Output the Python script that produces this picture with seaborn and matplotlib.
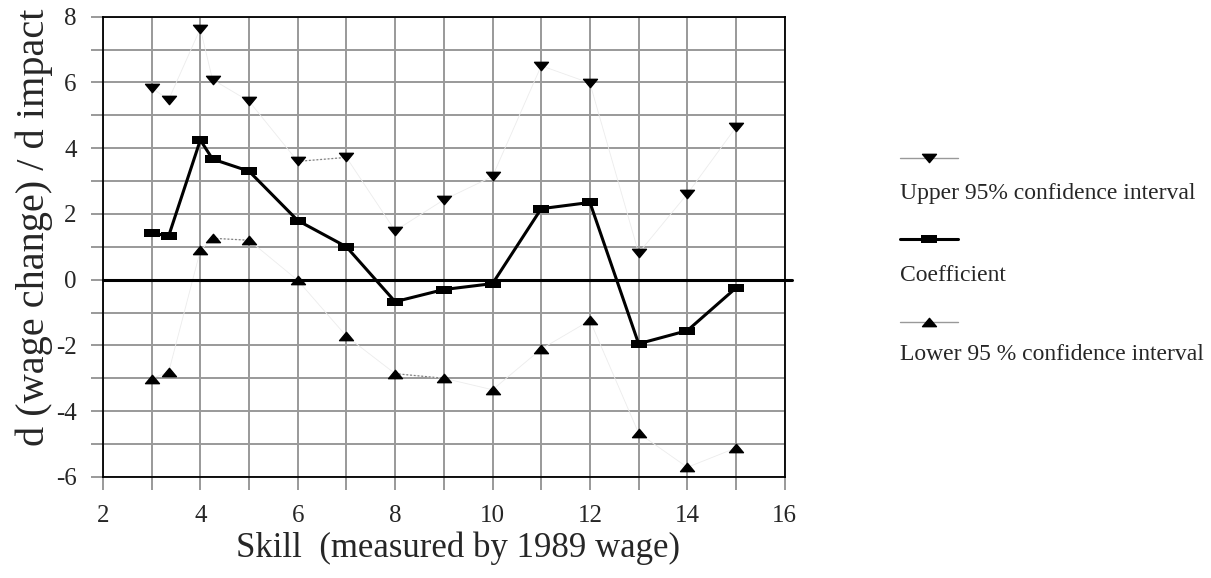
import numpy as np
import pandas as pd
import matplotlib
matplotlib.use("Agg")
import matplotlib.pyplot as plt
import seaborn as sns
from matplotlib.path import Path
from matplotlib.lines import Line2D

# ==================================================
# DATA
# ==================================================

skill = [3, 3.35, 4, 4.25, 5, 6, 7, 8, 9, 10, 11, 12, 13, 14, 15]
coefficient = [1.42, 1.33, 4.25, 3.67, 3.3, 1.8, 1.0, -0.67, -0.3, -0.12,
               2.16, 2.35, -1.95, -1.55, -0.25]
upper_ci = [5.83, 5.48, 7.64, 6.09, 5.43, 3.6, 3.72, 1.49, 2.43, 3.14,
            6.51, 5.98, 0.81, 2.61, 4.64]
lower_ci = [-3.01, -2.81, 0.89, 1.26, 1.2, -0.02, -1.72, -2.86, -3.0, -3.35,
            -2.11, -1.24, -4.67, -5.71, -5.12]

# segments that the original shows as dotted (index pairs)
upper_dotted = [(5, 6)]
lower_dotted = [(3, 4), (7, 8)]

legend_labels = ["Upper 95% confidence interval", "Coefficient",
                 "Lower 95 % confidence interval"]

df = pd.DataFrame({"skill": skill, "coef": coefficient,
                   "upper": upper_ci, "lower": lower_ci})

# ==================================================
# STYLE
# ==================================================

sns.set_style("white")
plt.rcParams["font.family"] = ["Liberation Serif", "DejaVu Serif"]

# flattened Excel-like markers
rect = Path([(-1, -0.55), (1, -0.55), (1, 0.55), (-1, 0.55), (-1, -0.55)],
            [Path.MOVETO, Path.LINETO, Path.LINETO, Path.LINETO, Path.CLOSEPOLY])
tri_down = Path([(-1, 0.6), (1, 0.6), (0, -0.6), (-1, 0.6)],
                [Path.MOVETO, Path.LINETO, Path.LINETO, Path.CLOSEPOLY])
tri_up = Path([(-1, -0.6), (1, -0.6), (0, 0.6), (-1, -0.6)],
              [Path.MOVETO, Path.LINETO, Path.LINETO, Path.CLOSEPOLY])

grid_col = "#999999"

fig = plt.figure(figsize=(12.11, 5.78), dpi=100)
ax = fig.add_axes([0.085, 0.175, 0.563, 0.796])

# ==================================================
# CI LINES (faint) + MARKERS
# ==================================================

sns.lineplot(data=df, x="skill", y="upper", ax=ax, color="#ececec",
             linewidth=0.6, sort=False, zorder=3)
sns.lineplot(data=df, x="skill", y="lower", ax=ax, color="#ececec",
             linewidth=0.6, sort=False, zorder=3)

for a, b in upper_dotted:
    ax.plot(df["skill"].iloc[[a, b]], df["upper"].iloc[[a, b]],
            color="#808080", linewidth=0.9, linestyle=(0, (1.5, 1.5)), zorder=3)
for a, b in lower_dotted:
    ax.plot(df["skill"].iloc[[a, b]], df["lower"].iloc[[a, b]],
            color="#808080", linewidth=0.9, linestyle=(0, (1.5, 1.5)), zorder=3)

ax.plot(df["skill"], df["upper"], linestyle="none", marker=tri_down,
        markersize=10, color="black", zorder=5)
ax.plot(df["skill"], df["lower"], linestyle="none", marker=tri_up,
        markersize=10, color="black", zorder=5)

# ==================================================
# COEFFICIENT
# ==================================================

sns.lineplot(data=df, x="skill", y="coef", ax=ax, color="black",
             linewidth=2.2, sort=False, marker=rect, markersize=11,
             markeredgewidth=0, zorder=6)

ax.axhline(0, xmax=1.01, color="black", linewidth=2.2, zorder=4, clip_on=False)

# ==================================================
# AXES
# ==================================================

ax.set_xlim(2, 16)
ax.set_ylim(-6, 8)
ax.set_xticks(np.arange(2, 17, 2))
ax.set_xticks(np.arange(2, 17, 1), minor=True)
ax.set_yticks(np.arange(-6, 9, 2))
ax.set_yticks(np.arange(-6, 9, 1), minor=True)
ax.set_xticklabels([str(v) for v in range(2, 17, 2)])
ax.set_yticklabels([str(v) for v in range(-6, 9, 2)])

ax.grid(which="both", color=grid_col, linewidth=1.4, zorder=0)
ax.set_axisbelow(True)

ax.tick_params(axis="both", which="both", direction="out", length=9,
               width=1.4, color=grid_col, labelsize=18,
               left=True, bottom=True)
ax.tick_params(axis="y", which="both", pad=10)
ax.tick_params(axis="x", which="both", pad=11)

for side in ["left", "right", "top", "bottom"]:
    ax.spines[side].set_visible(True)
    ax.spines[side].set_color("black")
    ax.spines[side].set_linewidth(1.3)
    ax.spines[side].set_zorder(7)

ax.set_xlabel("Skill  (measured by 1989 wage)", fontsize=25)
ax.set_ylabel("d (wage change) / d impact", fontsize=29)
ax.xaxis.set_label_coords(0.521, -0.118)
ax.yaxis.set_label_coords(-0.073, 0.543)

# ==================================================
# LEGEND (handle above label, like the original)
# ==================================================

hx = [900 / 1211, 958 / 1211]
hy = [1 - 158 / 578, 1 - 239 / 578, 1 - 322 / 578]
ty = [1 - 193 / 578, 1 - 275 / 578, 1 - 355 / 578]
styles = [
    dict(color="#999999", linewidth=1.0, marker=tri_down, markersize=10,
         markerfacecolor="black", markeredgecolor="black"),
    dict(color="black", linewidth=2.2, marker=rect, markersize=11,
         markerfacecolor="black", markeredgewidth=0),
    dict(color="#999999", linewidth=1.0, marker=tri_up, markersize=10,
         markerfacecolor="black", markeredgecolor="black"),
]
for i, lab in enumerate(legend_labels):
    ln = Line2D(hx, [hy[i], hy[i]], transform=fig.transFigure,
                markevery=[], **styles[i])
    fig.add_artist(ln)
    fig.add_artist(Line2D([np.mean(hx)], [hy[i]], transform=fig.transFigure,
                          linestyle="none", **{k: v for k, v in styles[i].items()
                                               if k not in ("linewidth",)}))
    fig.text(hx[0], ty[i], lab, fontsize=17, va="center", ha="left")

fig.savefig("out.png", dpi=100)
